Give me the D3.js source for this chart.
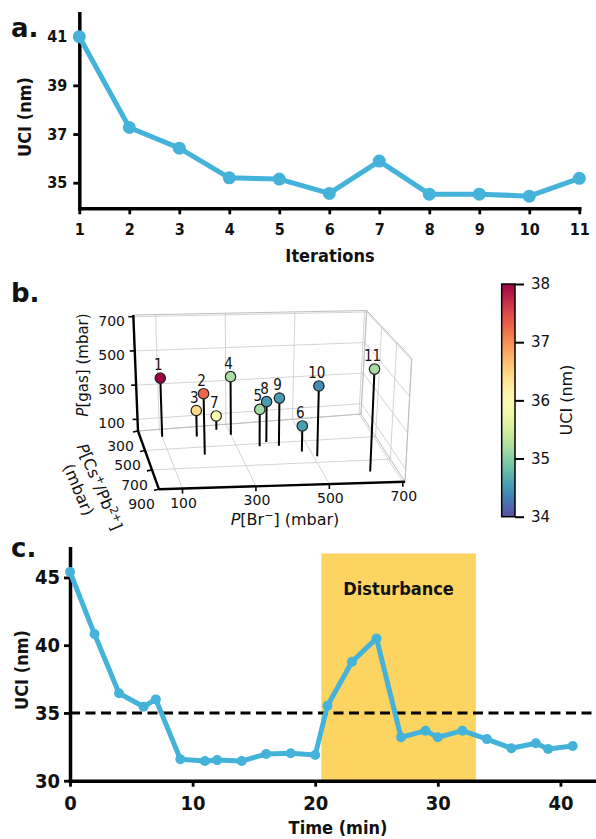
<!DOCTYPE html>
<html>
<head>
<meta charset="utf-8">
<script src="https://cdn.jsdelivr.net/npm/d3@7"></script>
<style>
  html, body { margin: 0; padding: 0; background: #fff; }
  svg { display: block; }
  text { font-family: "DejaVu Sans Condensed", "DejaVu Sans", sans-serif; fill: #111; }
  .reg { font-family: "DejaVu Sans", sans-serif; }
</style>
</head>
<body>
<svg id="fig" width="596" height="839"></svg>
<script>
// ── Data ──────────────────────────────────────────────────────────────────
// a. UCI per iteration
const iterations = [1, 2, 3, 4, 5, 6, 7, 8, 9, 10, 11];
const uciIter    = [41.0, 37.27, 36.42, 35.2, 35.15, 34.56, 35.89, 34.53, 34.53, 34.45, 35.18];

// b. sampled pressures (mbar) per iteration
const pBr   = [100, 200, 200, 300, 365, 475, 265, 390, 420, 510, 630];
const pCsPb = [375, 575, 395, 400, 525, 595, 345, 490, 530, 645, 800];
const pGas  = [370, 368, 183, 375, 244, 179, 115, 268, 308, 433, 602];
const ticks3d   = [100, 300, 500, 700];
const ticksCsPb = [300, 500, 700, 900];
const cbTicks   = [34, 35, 36, 37, 38];

// c. UCI over time
const timeMin = [0, 2, 4, 6, 7, 9, 11, 12, 14, 16, 18, 20, 21, 23, 25, 27, 29, 30, 32, 34, 36, 38, 39, 41];
const uciTime = [45.41, 40.82, 36.45, 35.46, 36.0, 31.58, 31.45, 31.52, 31.45, 31.97, 32.02, 31.9,
                 35.53, 38.78, 40.5, 33.2, 33.69, 33.2, 33.69, 33.07, 32.39, 32.76, 32.34, 32.56];
const timeTicks   = [0, 10, 20, 30, 40];
const uciTicksC   = [30, 35, 40, 45];
const uciTicksA   = [35, 37, 39, 41];
const threshold   = 35;
const disturbance = [20.5, 33.1];

const BLUE = '#45b3d9';
const svg  = d3.select('#fig');
const cmap = d3.scaleSequential(t => d3.interpolateSpectral(1 - t)).domain([34, 38]).clamp(true);

// ── Helpers ───────────────────────────────────────────────────────────────
function styleAxis(g, w, fs) {
  g.attr('font-family', null).attr('font-size', null);
  g.select('.domain').attr('stroke', '#000').attr('stroke-width', w).attr('stroke-linecap', 'square');
  g.selectAll('.tick line').attr('stroke', '#000').attr('stroke-width', w * 0.8);
  g.selectAll('.tick text').style('font-size', fs + 'px').style('font-weight', 'bold');
}

function panelLabel(txt, x, y) {
  svg.append('text').attr('x', x).attr('y', y).text(txt)
    .style('font-family', '"DejaVu Sans", sans-serif')
    .style('font-size', '26px').style('font-weight', 'bold');
}

function lineChart(xs, ys, xS, yS, lw, r) {
  const g = svg.append('g');
  g.append('path').datum(xs.map((x, i) => [x, ys[i]]))
    .attr('fill', 'none').attr('stroke', BLUE).attr('stroke-width', lw)
    .attr('stroke-linejoin', 'round')
    .attr('d', d3.line().x(d => xS(d[0])).y(d => yS(d[1])));
  g.selectAll('circle').data(xs.map((x, i) => [x, ys[i]])).join('circle')
    .attr('cx', d => xS(d[0])).attr('cy', d => yS(d[1])).attr('r', r)
    .attr('fill', BLUE);
}

// ── a. ────────────────────────────────────────────────────────────────────
const xA = d3.scaleLinear().domain([1, 11]).range([79.3, 579.3]);
const yA = d3.scaleLinear().domain([33.95, 41.96]).range([208.3, 13.3]);

svg.append('g').attr('transform', 'translate(0,208.3)')
  .call(d3.axisBottom(xA).tickValues(iterations).tickSize(6).tickSizeOuter(0).tickPadding(9))
  .call(g => styleAxis(g, 3.5, 16));
svg.append('g').attr('transform', 'translate(79.3,0)')
  .call(d3.axisLeft(yA).tickValues(uciTicksA).tickSize(6).tickSizeOuter(0).tickPadding(6))
  .call(g => styleAxis(g, 3.5, 16));

lineChart(iterations, uciIter, xA, yA, 5, 6.5);

svg.append('text').attr('x', 330).attr('y', 262).attr('text-anchor', 'middle')
  .style('font-size', '18px').style('font-weight', 'bold').text('Iterations');
svg.append('text').attr('transform', 'translate(31,117) rotate(-90)').attr('text-anchor', 'middle')
  .style('font-size', '18px').style('font-weight', 'bold').text('UCI (nm)');
panelLabel('a.', 11, 37);

// ── b. 3D stem plot ───────────────────────────────────────────────────────
const xB = d3.scaleLinear().domain([36, 706]).range([0, 1]);
const yB = d3.scaleLinear().domain([300, 900]).range([0, 1]);
const zB = d3.scaleLinear().domain([32, 710]).range([0, 1]);
// screen corners of the projected box, keyed u v w
const BOX = {
  '000': [138, 431],   '100': [361, 414],   '010': [159, 489.3], '110': [405, 481.7],
  '001': [133.3, 315], '101': [366.7, 310.5], '011': [153, 351], '111': [411.7, 358.3]
};
function proj3(u, v, w) {
  let x = 0, y = 0;
  for (const a of [0, 1]) for (const b of [0, 1]) for (const c of [0, 1]) {
    const k = (a ? u : 1 - u) * (b ? v : 1 - v) * (c ? w : 1 - w);
    const p = BOX['' + a + b + c];
    x += k * p[0]; y += k * p[1];
  }
  return [x, y];
}
const P = (br, cs, gas) => proj3(xB(br), yB(cs), zB(gas));

const gB = svg.append('g');
const seg = (a, b, col, w) => gB.append('line')
  .attr('x1', a[0]).attr('y1', a[1]).attr('x2', b[0]).attr('y2', b[1])
  .attr('stroke', col).attr('stroke-width', w);
const GRID = '#cfcfcf';

// grid lines on the three panes
ticks3d.forEach(t => {
  const w = zB(t), u = xB(t);
  seg(proj3(0, 0, w), proj3(1, 0, w), GRID, 0.9);   // back pane, gas
  seg(proj3(u, 0, 0), proj3(u, 0, 1), GRID, 0.9);   // back pane, Br
  seg(proj3(u, 0, 0), proj3(u, 1, 0), GRID, 0.9);   // floor, Br
  seg(proj3(1, 0, w), proj3(1, 1, w), GRID, 0.9);   // right pane, gas
});
ticksCsPb.forEach(t => {
  const v = yB(t);
  seg(proj3(0, v, 0), proj3(1, v, 0), GRID, 0.9);   // floor
  seg(proj3(1, v, 0), proj3(1, v, 1), GRID, 0.9);   // right pane
});
// pane edges
[[[0,0,1],[1,0,1]], [[1,0,0],[1,0,1]], [[0,0,0],[1,0,0]], [[1,0,1],[1,1,1]],
 [[1,1,0],[1,1,1]], [[1,0,0],[1,1,0]]].forEach(e => seg(proj3(...e[0]), proj3(...e[1]), '#bdbdbd', 1));

// axes
seg(proj3(0, 0, 0), proj3(0, 0, 1), '#000', 2.4);
seg(proj3(0, 0, 0), proj3(0, 1, 0), '#000', 2.4);
seg(proj3(0, 1, 0), proj3(1, 1, 0), '#000', 2.4);

// ticks + tick labels
ticks3d.forEach(t => {
  const p = proj3(0, 0, zB(t));
  seg(p, [p[0] - 5, p[1]], '#000', 1.6);
  gB.append('text').attr('class', 'reg').attr('x', 125).attr('y', p[1] + 9)
    .attr('text-anchor', 'end').style('font-size', '14px').text(t);
  const q = proj3(xB(t), 1, 0);
  seg(q, [q[0], q[1] + 5], '#000', 1.6);
  gB.append('text').attr('class', 'reg').attr('x', q[0] + 1).attr('y', q[1] + 19)
    .attr('text-anchor', 'middle').style('font-size', '14px').text(t);
});
ticksCsPb.forEach(t => {
  const p = proj3(0, yB(t), 0);
  seg(p, [p[0] - 5, p[1] + 1], '#000', 1.6);
  gB.append('text').attr('class', 'reg').attr('x', p[0] - 17.5).attr('y', p[1] + 20)
    .attr('text-anchor', 'middle').style('font-size', '14px').text(t);
});

// stems and points
const pts = iterations.map((it, i) => ({
  it, uci: uciIter[i],
  top: P(pBr[i], pCsPb[i], pGas[i]),
  base: P(pBr[i], pCsPb[i], zB.domain()[0]),
  depth: yB(pCsPb[i])
}));
pts.forEach(d => seg(d.base, d.top, '#000', 2));
pts.slice().sort((a, b) => a.depth - b.depth).forEach(d => {
  gB.append('circle').attr('cx', d.top[0]).attr('cy', d.top[1]).attr('r', 5.2)
    .attr('fill', cmap(d.uci)).attr('stroke', '#222').attr('stroke-width', 1.2);
  gB.append('text').attr('x', d.top[0] - 2).attr('y', d.top[1] - 8)
    .attr('text-anchor', 'middle').style('font-size', '15px').text(d.it);
});

// axis titles
const t1 = gB.append('text').attr('class', 'reg')
  .attr('transform', 'translate(88,365) rotate(-90)').attr('text-anchor', 'middle')
  .style('font-size', '15px');
t1.append('tspan').style('font-style', 'italic').text('P');
t1.append('tspan').text('[gas] (mbar)');

const t2 = gB.append('text').attr('class', 'reg')
  .attr('transform', 'translate(285,525)').attr('text-anchor', 'middle')
  .style('font-size', '16px');
t2.append('tspan').style('font-style', 'italic').text('P');
t2.append('tspan').text('[Br');
t2.append('tspan').attr('baseline-shift', 'super').style('font-size', '11px').text('\u2212');
t2.append('tspan').text('] (mbar)');

const t3 = gB.append('text').attr('class', 'reg')
  .attr('transform', 'translate(99,487) rotate(67)').attr('text-anchor', 'middle')
  .style('font-size', '16px');
t3.append('tspan').attr('x', 0).attr('y', 5).style('font-style', 'italic').text('P');
t3.append('tspan').text('[Cs');
t3.append('tspan').attr('baseline-shift', 'super').style('font-size', '11px').text('+');
t3.append('tspan').text('/Pb');
t3.append('tspan').attr('baseline-shift', 'super').style('font-size', '11px').text('2+');
t3.append('tspan').text(']');
gB.append('text').attr('class', 'reg')
  .attr('transform', 'translate(78,490) rotate(67)').attr('text-anchor', 'middle')
  .attr('y', 5).style('font-size', '16px').text('(mbar)');

panelLabel('b.', 11, 302);

// colorbar
const yCb = d3.scaleLinear().domain([34, 38]).range([516.7, 284]);
const grad = svg.append('defs').append('linearGradient').attr('id', 'cb')
  .attr('x1', 0).attr('y1', 1).attr('x2', 0).attr('y2', 0);
d3.range(0, 1.0001, 0.05).forEach(t => grad.append('stop')
  .attr('offset', t).attr('stop-color', cmap(34 + 4 * t)));
svg.append('rect').attr('x', 501.7).attr('y', yCb(38)).attr('width', 13.3)
  .attr('height', yCb(34) - yCb(38)).attr('fill', 'url(#cb)')
  .attr('stroke', '#000').attr('stroke-width', 1.5);
svg.append('g').attr('transform', 'translate(515,0)')
  .call(d3.axisRight(yCb).tickValues(cbTicks).tickFormat(d3.format('d'))
    .tickSize(9).tickSizeOuter(0).tickPadding(7))
  .call(g => {
    g.attr('font-family', null).attr('font-size', null);
    g.select('.domain').remove();
    g.selectAll('.tick line').attr('stroke', '#000').attr('stroke-width', 2);
    g.selectAll('.tick text').attr('class', 'reg').style('font-size', '15px');
  });
svg.append('text').attr('class', 'reg').attr('transform', 'translate(572,400) rotate(-90)')
  .attr('text-anchor', 'middle').style('font-size', '16px').text('UCI (nm)');

// ── c. ────────────────────────────────────────────────────────────────────
const xC = d3.scaleLinear().domain([0, 43]).range([70, 597.2]);
const yC = d3.scaleLinear().domain([30, 47.15]).range([780.7, 548.3]);

svg.append('rect').attr('x', xC(disturbance[0])).attr('y', yC(46.77))
  .attr('width', xC(disturbance[1]) - xC(disturbance[0]))
  .attr('height', yC(30) - yC(46.77)).attr('fill', '#fcd462');
svg.append('text').attr('x', xC((disturbance[0] + disturbance[1]) / 2)).attr('y', 595)
  .attr('text-anchor', 'middle').style('font-size', '18px').style('font-weight', 'bold')
  .text('Disturbance');

svg.append('line').attr('x1', xC(0)).attr('x2', 596).attr('y1', yC(threshold)).attr('y2', yC(threshold))
  .attr('stroke', '#000').attr('stroke-width', 3).attr('stroke-dasharray', '10,5.5');

svg.append('g').attr('transform', 'translate(0,780.7)')
  .call(d3.axisBottom(xC).tickValues(timeTicks).tickSize(6).tickSizeOuter(0).tickPadding(9))
  .call(g => styleAxis(g, 3.5, 20));
svg.append('g').attr('transform', 'translate(70,0)')
  .call(d3.axisLeft(yC).tickValues(uciTicksC).tickSize(6).tickSizeOuter(0).tickPadding(4))
  .call(g => styleAxis(g, 3.5, 20));

lineChart(timeMin, uciTime, xC, yC, 5, 5);

svg.append('text').attr('x', 338).attr('y', 834).attr('text-anchor', 'middle')
  .style('font-size', '18px').style('font-weight', 'bold').text('Time (min)');
svg.append('text').attr('transform', 'translate(28,670) rotate(-90)').attr('text-anchor', 'middle')
  .style('font-size', '18px').style('font-weight', 'bold').text('UCI (nm)');
panelLabel('c.', 11, 557);
</script>
</body>
</html>
